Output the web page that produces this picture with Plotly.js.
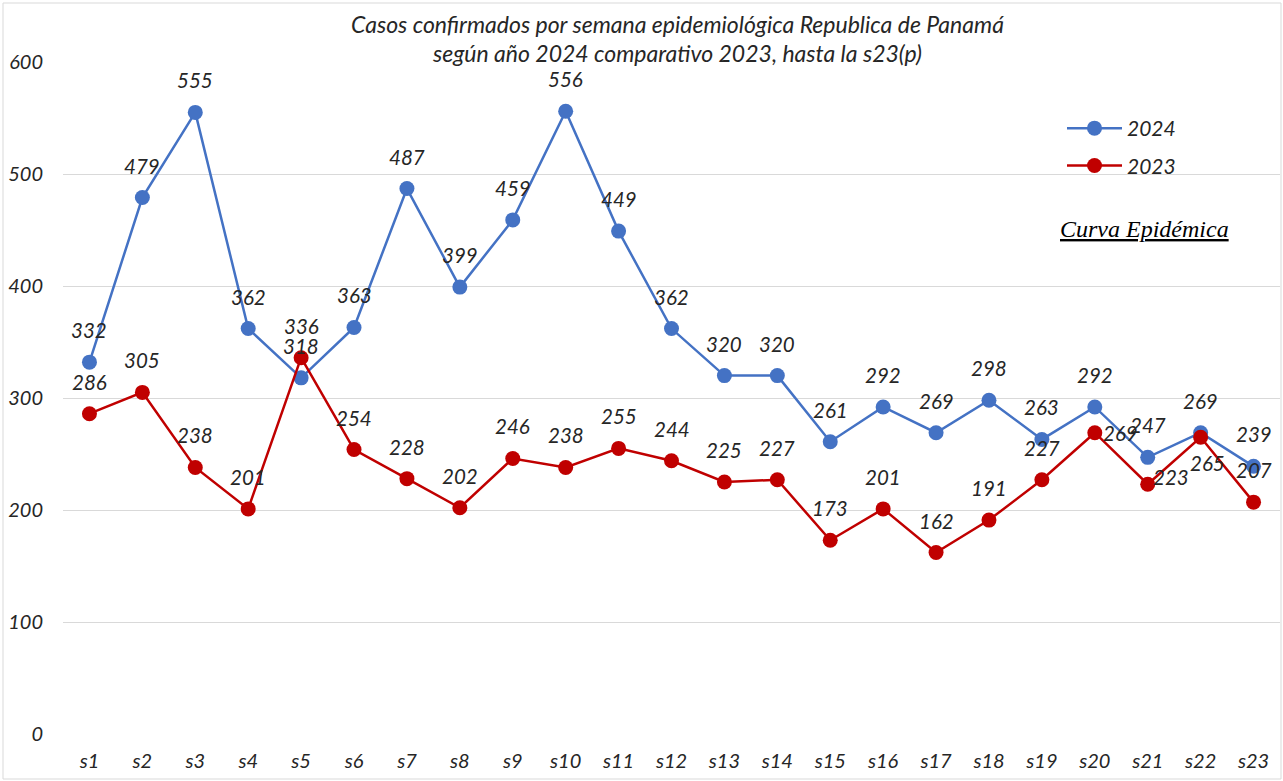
<!DOCTYPE html>
<html>
<head>
<meta charset="utf-8">
<script src="https://cdn.plot.ly/plotly-3.0.1.min.js"></script>
<style>
  html, body { margin: 0; padding: 0; background: #fff; }
  #chart { width: 1283px; height: 781px; }
</style>
</head>
<body>
<div id="chart"></div>
<script>
const weeks = ["s1","s2","s3","s4","s5","s6","s7","s8","s9","s10","s11","s12","s13","s14","s15","s16","s17","s18","s19","s20","s21","s22","s23"];
const cases2024 = [332,479,555,362,318,363,487,399,459,556,449,362,320,320,261,292,269,298,263,292,247,269,239];
const cases2023 = [286,305,238,201,336,254,228,202,246,238,255,244,225,227,173,201,162,191,227,269,223,265,207];
const yTicks = [0,100,200,300,400,500,600];
const titleLines = [
  "Casos confirmados por semana epidemiológica Republica de Panamá",
  "según año 2024 comparativo 2023, hasta la s23(p)"
];

const FONT = "Lato, 'Open Sans', sans-serif";
const BLUE = "#4472C4";
const RED = "#C00000";
const TXT = "#262626";

const traces = [
  {
    x: weeks, y: cases2024, name: "<i>2024</i>", type: "scatter", mode: "lines+markers",
    line: {color: BLUE, width: 2.5}, marker: {color: BLUE, size: 15},
    legendgroup: "a", cliponaxis: false
  },
  {
    x: weeks, y: cases2023, name: "<i>2023</i>", type: "scatter", mode: "lines+markers",
    line: {color: RED, width: 2.5}, marker: {color: RED, size: 15},
    legendgroup: "b", cliponaxis: false
  }
];

// label placement tweaks (series, week index) -> shifts
const special = {
  "2023-19": {xanchor: "left", xshift: 6, yshift: 0},
  "2023-20": {xanchor: "left", xshift: 3, yshift: 7},
  "2023-21": {xanchor: "center", xshift: 7, yshift: -26}
};

const annotations = [];
function addLabels(series, values) {
  values.forEach((v, i) => {
    const sp = special[series + "-" + i] || {xanchor: "center", xshift: 0, yshift: 32};
    annotations.push({
      x: weeks[i], y: v, xref: "x", yref: "y", text: "<i>" + v + "</i>",
      showarrow: false, xanchor: sp.xanchor, yanchor: "middle",
      xshift: sp.xshift, yshift: sp.yshift,
      font: {family: FONT, size: 20.5, color: TXT}
    });
  });
}
addLabels("2024", cases2024);
addLabels("2023", cases2023);

// title lines (px positions converted to paper coords)
const titleY = [24, 53];
titleLines.forEach((t, k) => {
  annotations.push({
    xref: "paper", yref: "paper", x: (677 - 63) / 1217, y: (734 - titleY[k]) / 672,
    text: "<i>" + t + "</i>", showarrow: false, xanchor: "center", yanchor: "middle",
    font: {family: FONT, size: 23, color: TXT}
  });
});

annotations.push({
  xref: "paper", yref: "paper", x: (1144 - 63) / 1217, y: (734 - 229) / 672,
  text: "<i><u>Curva Epidémica</u></i>", showarrow: false, xanchor: "center", yanchor: "middle",
  font: {family: "'Liberation Serif', 'Times New Roman', serif", size: 24, color: "#000"}
});

const layout = {
  width: 1283, height: 781,
  paper_bgcolor: "#fff", plot_bgcolor: "#fff",
  margin: {l: 63, r: 3, t: 62, b: 47},
  xaxis: {
    type: "category", range: [-0.5, 22.5], showgrid: false, zeroline: false, showline: false,
    ticks: "", tickfont: {family: FONT, size: 20, color: TXT}, ticklabelstandoff: 13,
    tickprefix: "<i>", ticksuffix: "</i>"
  },
  yaxis: {
    range: [0, 600], tickvals: yTicks, ticktext: yTicks.map(v => "<i>" + v + "</i>"),
    showgrid: true, gridcolor: "#d9d9d9", gridwidth: 1, zeroline: false, showline: false,
    ticks: "", tickfont: {family: FONT, size: 20, color: TXT}, ticklabelstandoff: 19
  },
  legend: {
    x: (1062 - 63) / 1217, y: (734 - 108) / 672, xanchor: "left", yanchor: "top",
    font: {family: FONT, size: 21, color: TXT}, bgcolor: "rgba(0,0,0,0)",
    tracegroupgap: 7, itemwidth: 55
  },
  annotations: annotations,
  shapes: [{
    type: "rect", xref: "paper", yref: "paper",
    x0: (3 - 63) / 1217, x1: (1281 - 63) / 1217, y0: (734 - 779) / 672, y1: (734 - 3) / 672,
    line: {color: "#d9d9d9", width: 1}, fillcolor: "rgba(0,0,0,0)", layer: "below"
  }]
};

Plotly.newPlot("chart", traces, layout, {displayModeBar: false, staticPlot: true});
</script>
</body>
</html>
